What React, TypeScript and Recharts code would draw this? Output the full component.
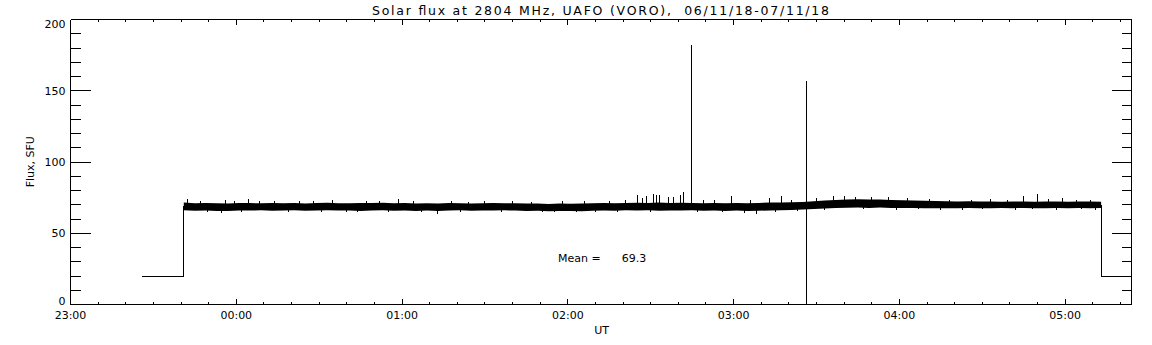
import React from 'react';
import { ComposedChart, XAxis, YAxis, Area, Bar, Line } from 'recharts';

// ---- axis ticks (minutes after 23:00 UT) ----
const xTickValues = [0, 10, 20, 30, 40, 50, 60, 70, 80, 90, 100, 110, 120, 130, 140, 150, 160, 170, 180, 190, 200, 210, 220, 230, 240, 250, 260, 270, 280, 290, 300, 310, 320, 330, 340, 350, 360, 370, 380];
const xLabelTimes = [0, 60, 120, 180, 240, 300, 360];
const xLabels = ['23:00', '00:00', '01:00', '02:00', '03:00', '04:00', '05:00'];
const yTickValues = [0, 10, 20, 30, 40, 50, 60, 70, 80, 90, 100, 110, 120, 130, 140, 150, 160, 170, 180, 190, 200];
const yLabelValues = [0, 50, 100, 150, 200];

// ---- solid core of the flux record (envelope) ----
const bandTime = [41, 45, 49, 53, 57, 61, 65, 69, 73, 77, 81, 85, 89, 93, 97, 101, 105, 109, 113, 117, 121, 125, 129, 133, 137, 141, 145, 149, 153, 157, 161, 165, 169, 173, 177, 181, 185, 189, 193, 197, 201, 205, 209, 213, 217, 221, 225, 229, 233, 237, 241, 245, 249, 253, 257, 261, 265, 269, 273, 277, 281, 285, 289, 293, 297, 301, 305, 309, 313, 317, 321, 325, 329, 333, 337, 341, 345, 349, 353, 357, 361, 365, 369, 373];
const bandLow = [
  66.1, 65.8, 66.0, 65.7, 65.6, 66.0, 65.9, 66.1, 65.8, 66.0,
  66.2, 65.8, 65.9, 66.1, 65.9, 66.0, 65.7, 66.0, 66.2, 65.8,
  65.9, 65.7, 65.9, 65.6, 65.9, 66.1, 65.8, 66.0, 65.9, 66.1,
  65.9, 65.7, 65.8, 65.5, 65.6, 65.7, 65.5, 65.8, 66.0, 65.8,
  66.1, 65.9, 66.1, 65.8, 66.0, 65.9, 66.1, 65.8, 66.0, 65.7,
  65.9, 65.6, 65.8, 66.0, 66.2, 66.4, 66.6, 67.0, 67.4, 67.7,
  67.9, 68.0, 67.8, 68.0, 67.8, 67.7, 67.8, 67.6, 67.5, 67.6,
  67.5, 67.7, 67.6, 67.5, 67.7, 67.6, 67.8, 67.6, 67.5, 67.7,
  67.6, 67.8, 67.6, 67.7,
];
const bandHigh = [
  71.5, 71.1, 71.3, 71.0, 70.9, 71.3, 71.2, 71.0, 71.3, 71.1,
  71.2, 70.9, 71.2, 71.4, 71.1, 71.0, 71.3, 71.2, 71.4, 71.1,
  71.2, 70.9, 71.1, 70.8, 71.2, 71.1, 70.9, 71.1, 71.2, 71.0,
  71.1, 70.9, 70.8, 70.6, 70.8, 70.7, 70.9, 71.1, 71.2, 71.0,
  71.3, 71.4, 71.2, 71.5, 71.3, 71.4, 71.2, 71.1, 71.3, 71.0,
  71.2, 71.0, 71.3, 71.5, 71.5, 71.7, 72.0, 72.5, 73.0, 73.4,
  73.7, 73.8, 73.6, 73.7, 73.4, 73.2, 73.0, 72.8, 72.6, 72.5,
  72.3, 72.4, 72.2, 72.3, 72.1, 72.3, 72.2, 72.1, 72.3, 72.2,
  72.1, 72.3, 72.2, 72.1,
];

// ---- individual spikes and dips (minute, lower value, upper value) ----
const spikeTime = [42.4, 47, 49.5, 54.7, 56, 59.5, 62, 64.3, 68.5, 74, 79, 83, 88, 91, 95, 100, 104, 107, 112, 115, 118.6, 124, 127, 132.7, 138, 141, 144, 150, 156, 160, 167, 171, 175, 178, 183, 186, 190, 195, 198, 201, 205.2, 207.2, 208.6, 210, 211, 212.2, 213.1, 216.4, 218.2, 220.7, 221.9, 224.8, 227, 229, 233, 236, 239.4, 244, 246, 248.2, 252.9, 255, 257.5, 261, 263, 266.4, 270, 273, 276.2, 280, 284, 287, 290, 296, 299, 303, 307, 311, 315, 318, 323, 326, 330, 333, 339, 342, 345, 348, 350, 354, 357, 359, 364, 366, 369, 371];
const spikeLow = [
  68, 68, 65.0, 64.4, 68, 68, 65.1, 68, 68, 68,
  64.9, 68, 68, 65.2, 68, 64.6, 65.0, 68, 68, 65.2,
  68, 68, 65.0, 63.5, 68, 64.9, 68, 68, 65.1, 68,
  68, 64.8, 65.0, 68, 64.6, 68, 65.0, 68, 65.1, 68,
  68, 68, 68, 65.0, 68, 68, 68, 68, 68, 68,
  68, 70, 64.9, 68, 68, 65.0, 68, 64.2, 68, 63.7,
  68, 65.1, 68, 68, 65.3, 0, 70, 66.4, 70, 70,
  70, 66.8, 70, 70, 66.6, 70, 66.7, 70, 66.6, 70,
  66.5, 70, 66.7, 70, 70, 66.4, 70, 66.7, 70, 70,
  66.6, 70, 70, 66.8, 70, 66.5,
];
const spikeHigh = [
  74.3, 72.6, 68, 68, 73.1, 72.6, 68, 74.3, 72.4, 72.8,
  68, 72.7, 72.3, 68, 73.0, 68, 68, 72.4, 72.8, 68,
  73.8, 72.3, 68, 68, 72.6, 68, 72.2, 72.9, 68, 72.4,
  72.2, 68, 68, 72.3, 68, 72.5, 68, 72.7, 68, 73.2,
  76.6, 74.4, 76.2, 68, 77.3, 77, 77, 75.5, 75.5, 76.6,
  79.2, 182, 68, 73.2, 73.6, 68, 76.4, 68, 73.0, 68,
  74.8, 68, 76, 73.6, 68, 157, 74.6, 70, 76, 76.2,
  75.4, 70, 75.5, 75.2, 70, 74.4, 70, 73.8, 70, 73.5,
  70, 73.6, 70, 73.9, 73.4, 70, 75.9, 70, 77.6, 74.0,
  70, 74.9, 73.5, 70, 73.6, 70,
];

// ---- calibration steps at both ends ----
const stepStartTime = [26, 41, 41];
const stepStartValue = [20, 20, 69];
const stepEndTime = [373, 373, 384];
const stepEndValue = [70, 20, 20];

const bandData = bandTime.map((t, i) => ({ t, range: [bandLow[i], bandHigh[i]] }));
const spikeData = spikeTime.map((t, i) => ({ t, range: [spikeLow[i], spikeHigh[i]] }));
const stepStartData = stepStartTime.map((t, i) => ({ t, v: stepStartValue[i] }));
const stepEndData = stepEndTime.map((t, i) => ({ t, v: stepEndValue[i] }));

const FONT = '"DejaVu Sans", sans-serif';
const INK = '#000';

const BottomTick = (p: any) => {
  const v = p.payload.value;
  const major = v % 60 === 0;
  const idx = xLabelTimes.indexOf(v);
  return (
    <g>
      <line x1={p.x} x2={p.x} y1={p.y} y2={p.y - (major ? 5.5 : 2.5)} stroke={INK} shapeRendering="crispEdges" />
      {idx >= 0 && (
        <text x={p.x} y={p.y + 14.5} textAnchor="middle" fontSize={11} fontFamily={FONT} fill={INK}>
          {xLabels[idx]}
        </text>
      )}
    </g>
  );
};

const TopTick = (p: any) => {
  const v = p.payload.value;
  const major = v % 60 === 0;
  return <line x1={p.x} x2={p.x} y1={p.y} y2={p.y + (major ? 5.5 : 2.5)} stroke={INK} shapeRendering="crispEdges" />;
};

const LeftTick = (p: any) => {
  const v = p.payload.value;
  const major = yLabelValues.indexOf(v) >= 0;
  const shift = v === 200 ? 4.5 : v === 0 ? -3.5 : 0;
  return (
    <g>
      <line x1={p.x} x2={p.x + (major ? 20 : 10)} y1={p.y} y2={p.y} stroke={INK} shapeRendering="crispEdges" />
      {major && (
        <text x={p.x - 5} y={p.y + 4 + shift} textAnchor="end" fontSize={11} fontFamily={FONT} fill={INK}>
          {String(v)}
        </text>
      )}
    </g>
  );
};

const RightTick = (p: any) => {
  const v = p.payload.value;
  const major = yLabelValues.indexOf(v) >= 0;
  return <line x1={p.x} x2={p.x - (major ? 20 : 10)} y1={p.y} y2={p.y} stroke={INK} shapeRendering="crispEdges" />;
};

const SpikeShape = (p: any) => {
  const cx = p.x + p.width / 2;
  return (
    <line x1={cx} x2={cx} y1={p.y} y2={p.y + p.height} stroke={INK} strokeWidth={1} shapeRendering="crispEdges" />
  );
};

export default function App() {
  const axisLine = { stroke: INK, strokeWidth: 1, shapeRendering: 'crispEdges' } as any;
  return (
    <div style={{ position: 'absolute', left: 0, top: 0, width: 1152, height: 345, background: '#fff' }}>
      <ComposedChart
        width={1152}
        height={345}
        data={spikeData}
        margin={{ top: 17.5, right: 18.5, bottom: 10.5, left: 30.5 }}
      >
        <XAxis
          xAxisId="bottom"
          dataKey="t"
          type="number"
          domain={[0, 384]}
          allowDataOverflow
          ticks={xTickValues}
          interval={0}
          orientation="bottom"
          height={30}
          tickSize={0}
          tickMargin={0}
          tickLine={false}
          axisLine={axisLine}
          tick={BottomTick}
        />
        <XAxis
          xAxisId="top"
          dataKey="t"
          type="number"
          domain={[0, 384]}
          allowDataOverflow
          ticks={xTickValues}
          interval={0}
          orientation="top"
          height={2}
          tickSize={0}
          tickMargin={0}
          tickLine={false}
          axisLine={axisLine}
          tick={TopTick}
        />
        <YAxis
          yAxisId="left"
          type="number"
          domain={[0, 200]}
          allowDataOverflow
          ticks={yTickValues}
          interval={0}
          orientation="left"
          width={40}
          tickSize={0}
          tickMargin={0}
          tickLine={false}
          axisLine={axisLine}
          tick={LeftTick}
        />
        <YAxis
          yAxisId="right"
          type="number"
          domain={[0, 200]}
          allowDataOverflow
          ticks={yTickValues}
          interval={0}
          orientation="right"
          width={2}
          tickSize={0}
          tickMargin={0}
          tickLine={false}
          axisLine={axisLine}
          tick={RightTick}
        />
        <Area
          xAxisId="bottom"
          yAxisId="left"
          data={bandData}
          dataKey="range"
          type="linear"
          stroke="none"
          fill={INK}
          fillOpacity={1}
          dot={false}
          activeDot={false}
          isAnimationActive={false}
        />
        <Bar
          xAxisId="bottom"
          yAxisId="left"
          dataKey="range"
          barSize={1}
          fill={INK}
          shape={SpikeShape}
          isAnimationActive={false}
        />
        <Line
          xAxisId="bottom"
          yAxisId="left"
          data={stepStartData}
          dataKey="v"
          type="linear"
          stroke={INK}
          strokeWidth={1}
          shapeRendering="crispEdges"
          dot={false}
          activeDot={false}
          isAnimationActive={false}
        />
        <Line
          xAxisId="bottom"
          yAxisId="left"
          data={stepEndData}
          dataKey="v"
          type="linear"
          stroke={INK}
          strokeWidth={1}
          shapeRendering="crispEdges"
          dot={false}
          activeDot={false}
          isAnimationActive={false}
        />
      </ComposedChart>
      <svg
        width={1152}
        height={345}
        style={{ position: 'absolute', left: 0, top: 0, pointerEvents: 'none' }}
      >
        <text
          x={600.5}
          y={15}
          textAnchor="middle"
          fontSize={12.5}
          fontFamily={FONT}
          fill={INK}
          textLength={457}
          lengthAdjust="spacing"
          style={{ whiteSpace: 'pre' }}
        >
          {'Solar flux at 2804 MHz, UAFO (VORO),  06/11/18-07/11/18'}
        </text>
        <text
          x={34}
          y={161.7}
          transform="rotate(-90, 34, 161.7)"
          textAnchor="middle"
          fontSize={11}
          fontFamily={FONT}
          fill={INK}
        >
          Flux, SFU
        </text>
        <text x={601.7} y={334} textAnchor="middle" fontSize={11} fontFamily={FONT} fill={INK}>
          UT
        </text>
        <text x={558} y={262} fontSize={11} fontFamily={FONT} fill={INK}>
          Mean =
        </text>
        <text x={621.7} y={262} fontSize={11} fontFamily={FONT} fill={INK}>
          69.3
        </text>
      </svg>
    </div>
  );
}
